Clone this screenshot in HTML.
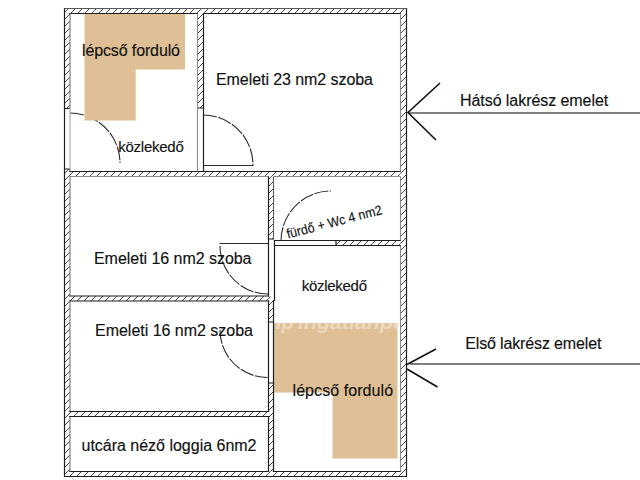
<!DOCTYPE html>
<html><head><meta charset="utf-8">
<style>
html,body{margin:0;padding:0;background:#fff;width:640px;height:480px;overflow:hidden}
svg{display:block}
text{font-family:"Liberation Sans",sans-serif;fill:#111;stroke:#111;stroke-width:0.15px}
</style></head>
<body>
<svg width="640" height="480" viewBox="0 0 640 480">
<defs>
<pattern id="h" width="7" height="7" patternUnits="userSpaceOnUse">
<path d="M-1,1 L1,-1 M0,7 L7,0 M6,8 L8,6" stroke="#444" stroke-width="1"/>
</pattern>
<clipPath id="tan2"><path d="M274,323 H397.5 V458.5 H332.5 V392.5 H274 Z"/></clipPath>
</defs>
<rect width="640" height="480" fill="#fff"/>

<!-- doors -->
<g stroke="#2a2a2a" stroke-width="1.1" fill="none">
<path d="M70,113 A50,50 0 0 1 120,163" stroke-dasharray="14,1.4"/>
<path d="M203,115 A50,50 0 0 1 253,165" stroke-dasharray="14,1.4"/>
<path d="M203.5,165.5 H253.5"/>
<path d="M281,241 A50,50 0 0 1 331,191" stroke-dasharray="14,1.4"/>
<path d="M219.5,243.5 H268.5"/>
<path d="M220,246 A48,48 0 0 0 268,294" stroke-dasharray="14,1.4"/>
<path d="M220,330 A47.5,47.5 0 0 0 267.5,377.5" stroke-dasharray="14,1.4"/>
</g>

<!-- tan areas -->
<path d="M84.5,13.5 H185 V69.6 H135.7 V120.6 H84.5 Z" fill="#DFC096"/>
<path d="M274,323 H397.5 V458.5 H332.5 V392.5 H274 Z" fill="#DFC096"/>
<g clip-path="url(#tan2)" style="fill:#fff;stroke:none;opacity:0.4;font-style:italic;font-weight:bold">
<text x="276" y="329" font-size="20" style="fill:#fff;stroke:none">ip</text>
<text x="298" y="329" font-size="20" textLength="108" lengthAdjust="spacingAndGlyphs" style="fill:#fff;stroke:none">ingatlanpo</text>
</g>

<!-- hatched wall fills -->
<g fill="url(#h)">
<rect x="64.5" y="8.5" width="342" height="5"/>
<rect x="64.5" y="8.5" width="5.5" height="100"/>
<rect x="64.5" y="169" width="5.5" height="307.5"/>
<rect x="400.5" y="8.5" width="6" height="468"/>
<rect x="64.5" y="471.5" width="342" height="5"/>
<rect x="197.5" y="13.5" width="6" height="94.5"/>
<rect x="69.5" y="171.5" width="331" height="5"/>
<rect x="268.5" y="176.5" width="5" height="62.5"/>
<rect x="268.5" y="296.5" width="5" height="25.5"/>
<rect x="268.5" y="383" width="5" height="88.5"/>
<rect x="336" y="240.5" width="64.5" height="5"/>
<rect x="69.5" y="296" width="199" height="5"/>
<rect x="69.5" y="411.5" width="199" height="5"/>
</g>

<!-- wall outlines -->
<g stroke="#1e1e1e" stroke-width="1.2" fill="none" stroke-linecap="square">
<path d="M64.5,8.5 V476.5 H406.5 V8.5"/>
<path d="M69.5,13.5 H197.5 M203.5,13.5 H400.5"/>
<path d="M64.5,108.5 H69.5 M64.5,169 H69.5"/>
<path d="M197.5,108 H203.5 M203.5,13.5 V171.5"/>
<path d="M69.5,171.5 H400.5"/>
<path d="M268.5,176.5 V296 M268.5,301 V411.5 M268.5,416.5 V471.5 M274.5,240.5 V300.5 M273.5,300.5 V471.5"/>
<path d="M268.5,239 H273.5 M268.5,322 H273.5 M268.5,383 H273.5"/>
<path d="M274.5,240.5 H400.5 M274.5,245.5 H400.5 M336,240.5 V245.5"/>
<path d="M69.5,296 H268.5 M69.5,301 H268.5"/>
<path d="M69.5,411.5 H268.5 M69.5,416.5 H268.5"/>
<path d="M69.5,471.5 H268.5 M273.5,471.5 H400.5"/>
</g>
<g stroke="#5a5a5a" stroke-width="1.1" fill="none">
<path d="M64.5,8.5 H406.5"/>
<path d="M273.5,176.5 V239"/>
</g>
<g stroke="#8c8c8c" stroke-width="1.1" fill="none">
<path d="M70,13.5 V108.5 M70,169 V171.5 M70,176.5 V296 M70,301 V411.5 M70,416.5 V471.5" stroke="#7a7a7a"/>
<path d="M70,108.5 V169" stroke="#aaa"/>
<path d="M400.5,13.5 V171.5 M400.5,176.5 V240.5 M400.5,245.5 V471.5"/>
<path d="M197.5,13.5 V171.5"/>
<path d="M69.5,176.5 H268.5 M273.5,176.5 H400.5"/>
</g>

<!-- arrows -->
<g fill="none">
<path d="M408,113 H640" stroke="#555" stroke-width="1.5"/>
<path d="M440,83 L408,112.5 L436,140" stroke="#111" stroke-width="1.6"/>
<path d="M410,364 H640" stroke="#555" stroke-width="1.5"/>
<path d="M436,349 L407,364.5 M407,369 L437.5,387" stroke="#111" stroke-width="1.6"/>
</g>

<!-- labels -->
<text x="82" y="55.7" font-size="16" textLength="98" lengthAdjust="spacing">lépcső forduló</text>
<text x="118.2" y="151.8" font-size="15" textLength="65.6" lengthAdjust="spacing">közlekedő</text>
<text x="216" y="84.7" font-size="16" textLength="157" lengthAdjust="spacing">Emeleti 23 nm2 szoba</text>
<text x="460" y="105.8" font-size="16" textLength="148.2" lengthAdjust="spacing">Hátsó lakrész emelet</text>
<text x="94" y="263.8" font-size="16" textLength="157.5" lengthAdjust="spacing">Emeleti 16 nm2 szoba</text>
<text x="95" y="336" font-size="16" textLength="158" lengthAdjust="spacing">Emeleti 16 nm2 szoba</text>
<text x="301.8" y="291.2" font-size="15" textLength="65.2" lengthAdjust="spacing">közlekedő</text>
<text x="292.5" y="396.1" font-size="16" textLength="100.6" lengthAdjust="spacing">lépcső forduló</text>
<text x="465.2" y="349.4" font-size="16" textLength="136.2" lengthAdjust="spacing">Első lakrész emelet</text>
<text x="81.5" y="450.5" font-size="16" textLength="175" lengthAdjust="spacing">utcára néző loggia 6nm2</text>
<text x="0" y="0" font-size="13.5" textLength="98" lengthAdjust="spacingAndGlyphs" transform="translate(288,238.5) rotate(-14.5)">fürdő + Wc 4 nm2</text>
</svg>
</body></html>
